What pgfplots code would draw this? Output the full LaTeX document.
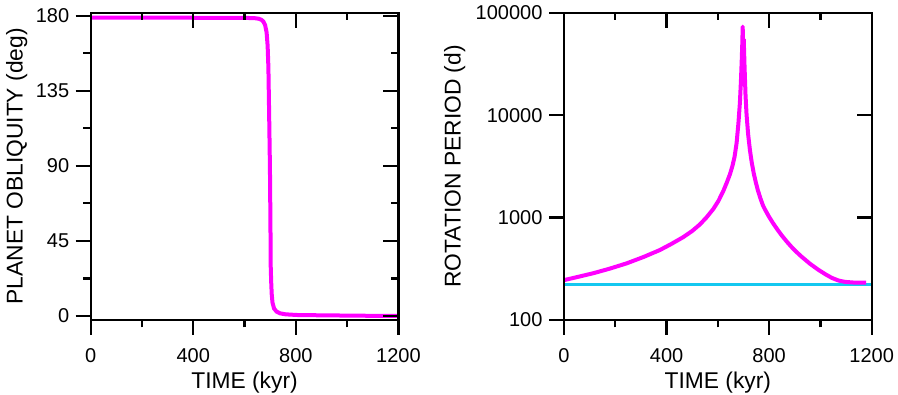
\documentclass[border=0pt]{standalone}
\usepackage{fontspec}
\setmainfont{Liberation Sans}
\usepackage{pgfplots}
\pgfplotsset{compat=1.18}
\definecolor{mag}{RGB}{255,0,255}
\definecolor{cyn}{RGB}{20,200,240}
\pgfplotsset{
  common/.style={scale only axis, width=307.7pt, height=307.3pt, anchor=south west,
    xmin=0, xmax=1200, xtick={0,400,800,1200}, minor xtick={200,600,1000},
    xticklabels={0,400,800,1200},
    axis line style={line width=2.2pt}, tick style={black, line width=2.2pt},
    major tick length=15pt, minor tick length=7.5pt,
    tick label style={font=\fontsize{20}{24}\selectfont},
    xticklabel style={yshift=-10pt}, yticklabel style={xshift=-3pt},
    label style={font=\fontsize{22.8}{26}\selectfont},
    tick align=outside, xtick pos=left, ytick pos=left},
  over/.style={common, tick align=inside, xtick pos=right, ytick pos=right,
    xticklabels={}, yticklabels={}},
}
\pgfplotstableread{
t v
0 178.8
300 178.8
600 178.7
640 178.5
655 178.2
665 177.6
673 176.6
680 174.5
686 170
690 162
693 149
696 120
699 89
701 55
702 30
704 20
706 13
709 8
715 4.5
725 2.6
738 1.6
760 1.0
803 0.6
900 0.4
1000 0.25
1100 0.1
1200 0.0
}\obliq
\pgfplotstableread{
t p
0 245
50 262
114 286
180 318
244 357
310 412
374 482
420 555
465 644
500 740
530 857
556 1005
582 1210
602 1450
621 1810
635 2200
647 2640
657 3200
665 3900
673 5300
680 8200
686 13200
690 21500
693 33500
695 47000
697 73000
699 20000
701 55000
704 30400
708 15500
712 10100
718 6550
725 4570
732 3470
740 2700
748 2210
756 1850
766 1540
776 1313
784 1197
800 1014
815 883
832 766
849 670
870 578
890 508
910 453
927 414
960 353
992 309
1020 279
1044 258
1070 243
1096 235.5
1130 232
1178 231
}\period
\pgfplotstableread{
t p
0 221
1200 221
}\refper
\begin{document}
\begin{tikzpicture}
\useasboundingbox (0,0) rectangle (898pt,395pt);
% left panel
\begin{axis}[common, at={(90.7pt,75pt)},
  ymin=-2.4, ymax=181.8, ytick={0,45,90,135,180}, minor ytick={22.5,67.5,112.5,157.5},
  yticklabels={0,45,90,135,180},
  xlabel={TIME (kyr)}, ylabel={PLANET OBLIQUITY (deg)},
  xlabel style={at={(axis description cs:0.5,-0.2245)}, anchor=base},
  ylabel style={at={(axis description cs:-0.221,0.5)}, anchor=base}]
\addplot[mag, line width=4pt, line join=round] table[x=t,y=v] {\obliq};
\end{axis}
\begin{axis}[over, at={(90.7pt,75pt)},
  ymin=-2.4, ymax=181.8, ytick={0,45,90,135,180}, minor ytick={22.5,67.5,112.5,157.5}]
\end{axis}
% right panel
\begin{axis}[common, at={(564pt,75pt)}, ymode=log,
  ymin=100, ymax=100000, ytick={100,1000,10000,100000}, yminorticks=false,
  yticklabels={100,1000,10000,100000},
  xlabel={TIME (kyr)}, ylabel={ROTATION PERIOD (d)},
  xlabel style={at={(axis description cs:0.5,-0.2245)}, anchor=base},
  ylabel style={at={(axis description cs:-0.336,0.5)}, anchor=base}]
\addplot[cyn, line width=2.5pt] table[x=t,y=p] {\refper};
\addplot[mag, line width=4pt, line join=round] table[x=t,y=p] {\period};
\end{axis}
\begin{axis}[over, at={(564pt,75pt)}, ymode=log,
  ymin=100, ymax=100000, ytick={100,1000,10000,100000}, yminorticks=false]
\end{axis}
\end{tikzpicture}
\end{document}
